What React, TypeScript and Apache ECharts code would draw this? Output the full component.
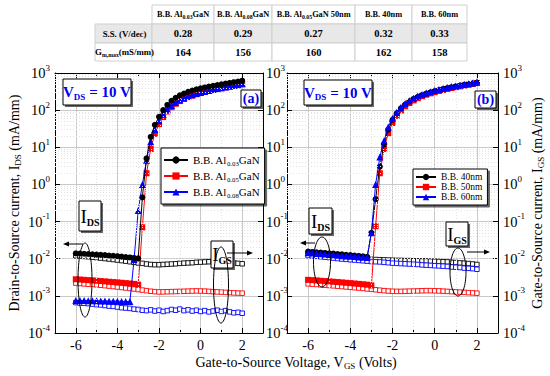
import React, { useEffect, useRef } from "react";
import * as echarts from "echarts";

const FONT = "Liberation Serif";

// ---- Data ----
const vgs = [-6, -5.8, -5.6, -5.4, -5.2, -5, -4.8, -4.6, -4.4, -4.2, -4, -3.8, -3.6, -3.4, -3.2, -3, -2.8, -2.6, -2.4, -2.2, -2, -1.8, -1.6, -1.4, -1.2, -1, -0.8, -0.6, -0.4, -0.2, 0, 0.2, 0.4, 0.6, 0.8, 1, 1.2, 1.4, 1.6, 1.8, 2];

// panel (a)
const idsAl003 = [0.014, 0.0138, 0.0136, 0.0134, 0.0132, 0.0129, 0.0127, 0.0125, 0.0122, 0.012, 0.0117, 0.0114, 0.0111, 0.0108, 0.0105, 0.0102, 0.45, 5.0, 19, 40, 66, 100, 138, 178, 215, 250, 280, 310, 338, 362, 385, 408, 430, 452, 474, 495, 518, 540, 565, 590, 620];
const idsAl005 = [0.0028, 0.00275, 0.0027, 0.00265, 0.0026, 0.00255, 0.0025, 0.00245, 0.0024, 0.00235, 0.0023, 0.00225, 0.0022, 0.00215, 0.0021, 0.002, 0.07, 2.0, 9, 23, 42, 65, 92, 120, 148, 175, 200, 224, 246, 268, 288, 308, 328, 348, 368, 388, 408, 428, 450, 472, 500];
const idsAl008 = [0.00075, 0.00075, 0.00075, 0.00074, 0.00074, 0.00074, 0.00073, 0.00073, 0.00072, 0.00072, 0.00072, 0.00071, 0.00071, 0.0007, 0.0095, 0.2, 1.0, 4.5, 14, 30, 52, 78, 105, 133, 160, 187, 212, 236, 258, 280, 300, 320, 340, 360, 380, 400, 420, 440, 462, 485, 515];
const igsAl003 = [0.012, 0.0118, 0.0115, 0.0113, 0.011, 0.0107, 0.0104, 0.0101, 0.0098, 0.0095, 0.0092, 0.0089, 0.0086, 0.0083, 0.008, 0.0077, 0.0075, 0.0072, 0.007, 0.0069, 0.0069, 0.007, 0.0071, 0.0072, 0.0073, 0.0075, 0.0076, 0.0077, 0.0078, 0.008, 0.0081, 0.0082, 0.0083, 0.0084, 0.0084, 0.0083, 0.0081, 0.0079, 0.0077, 0.0075, 0.0073];
const igsAl005 = [0.0022, 0.00215, 0.0021, 0.00206, 0.00202, 0.00198, 0.00193, 0.00188, 0.00183, 0.00178, 0.00173, 0.00168, 0.00163, 0.00158, 0.00153, 0.00148, 0.00143, 0.00138, 0.00133, 0.0013, 0.00128, 0.00128, 0.00129, 0.0013, 0.00131, 0.00132, 0.00133, 0.00134, 0.00135, 0.00136, 0.00135, 0.00134, 0.00132, 0.0013, 0.00128, 0.00126, 0.00124, 0.00122, 0.0012, 0.00119, 0.00118];
const igsAl008 = [0.00066, 0.00064, 0.00063, 0.00062, 0.0006, 0.00058, 0.00057, 0.00055, 0.00053, 0.00052, 0.0005, 0.00048, 0.00047, 0.00046, 0.00044, 0.00043, 0.00041, 0.0004, 0.00042, 0.00039, 0.00041, 0.00038, 0.0004, 0.00043, 0.00041, 0.00044, 0.0004, 0.00042, 0.00039, 0.00041, 0.00038, 0.0004, 0.00037, 0.00039, 0.00041, 0.00038, 0.0004, 0.00037, 0.00035, 0.00036, 0.00034];

// panel (b)
const ids40 = [0.0155, 0.0152, 0.0149, 0.0146, 0.0143, 0.014, 0.0137, 0.0134, 0.0131, 0.0128, 0.0125, 0.0122, 0.0119, 0.0116, 0.0113, 0.05, 0.4, 3.0, 12, 30, 55, 82, 112, 142, 172, 200, 228, 254, 280, 303, 326, 348, 372, 393, 416, 437, 458, 480, 502, 525, 555];
const ids50 = [0.0027, 0.00265, 0.0026, 0.00255, 0.0025, 0.00245, 0.0024, 0.00235, 0.0023, 0.00225, 0.0022, 0.00215, 0.0021, 0.00205, 0.002, 0.0019, 0.075, 2.0, 9, 24, 45, 70, 98, 127, 155, 183, 210, 236, 260, 283, 305, 328, 350, 372, 395, 416, 437, 460, 482, 505, 535];
const ids60 = [0.0145, 0.0142, 0.0139, 0.0136, 0.0133, 0.013, 0.0127, 0.0124, 0.0121, 0.0118, 0.0116, 0.0114, 0.0112, 0.011, 0.0108, 0.05, 1.0, 5.5, 15, 35, 60, 88, 120, 150, 180, 210, 240, 265, 290, 315, 340, 360, 385, 405, 430, 450, 470, 495, 515, 540, 570];
const igs40 = [0.0135, 0.0132, 0.0129, 0.0126, 0.0123, 0.012, 0.0117, 0.0114, 0.0111, 0.0108, 0.0106, 0.0104, 0.0102, 0.01, 0.0098, 0.0096, 0.0095, 0.0094, 0.0093, 0.0092, 0.0091, 0.009, 0.009, 0.0089, 0.0089, 0.0088, 0.0088, 0.0087, 0.0087, 0.0086, 0.0085, 0.0084, 0.0083, 0.0082, 0.008, 0.0079, 0.0077, 0.0076, 0.0074, 0.0072, 0.007];
const igs50 = [0.0021, 0.00206, 0.00202, 0.00198, 0.00194, 0.0019, 0.00186, 0.00182, 0.00178, 0.00174, 0.0017, 0.00166, 0.00162, 0.00158, 0.00154, 0.0015, 0.00146, 0.00142, 0.00138, 0.00135, 0.00133, 0.00132, 0.00132, 0.00133, 0.00134, 0.00135, 0.00136, 0.00137, 0.00138, 0.00138, 0.00137, 0.00136, 0.00134, 0.00132, 0.0013, 0.00128, 0.00126, 0.00124, 0.00122, 0.0012, 0.00118];
const igs60 = [0.0122, 0.0119, 0.0116, 0.0113, 0.011, 0.0107, 0.0104, 0.0101, 0.0098, 0.0096, 0.0094, 0.0092, 0.009, 0.0088, 0.0086, 0.0084, 0.0083, 0.0082, 0.008, 0.0078, 0.0076, 0.0075, 0.0074, 0.0073, 0.0072, 0.0071, 0.007, 0.0068, 0.0067, 0.0066, 0.0065, 0.0064, 0.0063, 0.0062, 0.006, 0.0059, 0.0058, 0.0056, 0.0055, 0.0054, 0.0052];

const legendA = ["B.B. Al0.03GaN", "B.B. Al0.05GaN", "B.B. Al0.08GaN"];
const legendB = ["B.B. 40nm", "B.B. 50nm", "B.B. 60nm"];

const tableHeaders = ["B.B. Al0.03GaN", "B.B. Al0.08GaN", "B.B. Al0.05GaN 50nm", "B.B. 40nm", "B.B. 60nm"];
const tableRowLabels = ["S.S. (V/dec)", "Gm,max(mS/mm)"];
const ssValues = ["0.28", "0.29", "0.27", "0.32", "0.33"];
const gmValues = ["164", "156", "160", "162", "158"];

const minorXTicks = [-5, -3, -1, 1];

// ---- helpers ----
const pts = (ys: number[]) => vgs.map((x, i) => [x, ys[i]]);

function idsSeries(name: string, ys: number[], color: string, symbol: string, size: number, xi: number, yi: number, z: number) {
  return {
    type: "line", name, data: pts(ys), xAxisIndex: xi, yAxisIndex: yi,
    symbol, symbolSize: size, showAllSymbol: true,
    lineStyle: { color, width: 1 }, itemStyle: { color }, z,
  };
}
function igsSeries(name: string, ys: number[], color: string, xi: number, yi: number) {
  return {
    type: "line", name, data: pts(ys), xAxisIndex: xi, yAxisIndex: yi,
    symbol: "rect", symbolSize: 4.5, showAllSymbol: true,
    lineStyle: { color, width: 0.8 },
    itemStyle: { color: "#fff", borderColor: color, borderWidth: 0.9 }, z: 2,
  };
}

const minorY: number[] = [];
for (let e = -4; e < 3; e++) for (let m = 2; m < 10; m++) minorY.push(m * Math.pow(10, e));

function gridMinor(xi: number, yi: number) {
  return {
    type: "line", name: "grid" + xi, data: [], xAxisIndex: xi, yAxisIndex: yi, silent: true, z: 1,
    markLine: {
      silent: true, symbol: ["none", "none"], label: { show: false },
      lineStyle: { color: "#e2e2e2", type: [1, 2], width: 1 },
      emphasis: { disabled: true },
      data: [...minorY.map((v) => ({ yAxis: v })), ...minorXTicks.map((v) => ({ xAxis: v }))],
    },
  };
}

function xAx(gi: number, pos: string, showLabel: boolean) {
  return {
    type: "value", gridIndex: gi, position: pos, min: -7, max: 3, splitNumber: 5,
    axisLine: { show: true, onZero: false, lineStyle: { color: "#000", width: 1 } },
    axisTick: { show: true, inside: true, length: 5, lineStyle: { color: "#000" } },
    minorTick: { show: true, splitNumber: 2, length: 3, lineStyle: { color: "#000" } },
    axisLabel: {
      show: showLabel, fontFamily: FONT, fontSize: 14, color: "#000", margin: 5,
      formatter: (v: number) => (Math.abs(v % 2) < 1e-9 ? String(v) : ""),
    },
    splitLine: { show: pos === "bottom", lineStyle: { color: "#c8c8c8", width: 1 } },
  };
}
function yAx(gi: number, pos: string, showLabel: boolean, margin: number) {
  return {
    type: "log", logBase: 10, gridIndex: gi, position: pos, min: 1e-4, max: 1e3, splitNumber: 7,
    axisLine: { show: true, onZero: false, lineStyle: { color: "#000", width: 1 } },
    axisTick: { show: true, inside: true, length: 5, lineStyle: { color: "#000" } },
    axisLabel: {
      show: showLabel, margin,
      formatter: (v: number) => `{b|10}{s|${Math.round(Math.log10(v))}}`,
      rich: {
        b: { fontFamily: FONT, fontSize: 14.5, color: "#000", lineHeight: 20 },
        s: { fontFamily: FONT, fontSize: 9, color: "#000", lineHeight: 10, verticalAlign: "top" },
      },
    },
    splitLine: { show: pos === "left", lineStyle: { color: "#c8c8c8", width: 1 } },
  };
}

function tstyle(size: number, weight: string, fill: string, extra: any = {}) {
  return { fontFamily: FONT, fontSize: size, fontWeight: weight, fill, ...extra };
}

function textEl(x: number, y: number, text: string, rich: any, rotation = 0) {
  return {
    type: "text", x, y, rotation, z: 30, silent: true,
    style: {
      text, rich, x: 0, y: 0, align: "center", verticalAlign: "middle",
      textAlign: "center", textVerticalAlign: "middle",
      fontFamily: FONT, fontSize: 14, fill: "#000",
    },
  };
}

function shadowBox(x: number, y: number, w: number, h: number) {
  return [
    { type: "rect", z: 28, silent: true, shape: { x: x + 2, y: y + 2, width: w, height: h }, style: { fill: "#666" } },
    { type: "rect", z: 29, silent: true, shape: { x, y, width: w, height: h }, style: { fill: "#fff", stroke: "#000", lineWidth: 1 } },
  ];
}

function ellipseEl(cx: number, cy: number, rx: number, ry: number) {
  return { type: "ellipse", z: 30, silent: true, shape: { cx, cy, rx, ry }, style: { fill: "none", stroke: "#000", lineWidth: 1 } };
}

function arrowEl(x1: number, x2: number, y: number) {
  const dir = x2 > x1 ? 1 : -1;
  const hx = x2 - dir * 6;
  return [
    { type: "line", z: 30, silent: true, shape: { x1, y1: y, x2: hx, y2: y }, style: { stroke: "#000", lineWidth: 1 } },
    { type: "polygon", z: 30, silent: true, shape: { points: [[x2, y], [hx, y - 2.5], [hx, y + 2.5]] }, style: { fill: "#000" } },
  ];
}

const blue = "#0000ee";
const vdsRich = {
  v: tstyle(15, "bold", blue, { lineHeight: 18 }),
  d: tstyle(9, "bold", blue, { lineHeight: 9, verticalAlign: "bottom" }),
};
const iRich = {
  i: tstyle(19, "normal", "#000", { lineHeight: 22 }),
  d: tstyle(10, "bold", "#000", { lineHeight: 10, verticalAlign: "bottom" }),
};
const panelRich = { p: tstyle(14, "bold", blue) };
const titleRich = {
  t: tstyle(14, "normal", "#000", { lineHeight: 17 }),
  s: tstyle(9, "normal", "#000", { lineHeight: 9, verticalAlign: "bottom" }),
};

function buildTable() {
  const colEdges = [95, 152, 214, 272, 355, 412, 467];
  const rowEdges = [5, 24, 43, 61];
  const els: any[] = [];
  const thRich = {
    h: tstyle(8.3, "bold", "#000", { lineHeight: 11 }),
    hs: tstyle(5.8, "bold", "#000", { lineHeight: 6, verticalAlign: "bottom" }),
  };
  const vRich = { v: tstyle(10.5, "bold", "#000") };
  const lRich = {
    l: tstyle(8.8, "bold", "#000", { lineHeight: 11 }),
    ls: tstyle(5.8, "bold", "#000", { lineHeight: 6, verticalAlign: "bottom" }),
  };
  for (let r = 0; r < 3; r++) {
    for (let c = 0; c < 6; c++) {
      if (r === 0 && c === 0) continue;
      els.push({
        type: "rect", z: 25, silent: true,
        shape: { x: colEdges[c], y: rowEdges[r], width: colEdges[c + 1] - colEdges[c], height: rowEdges[r + 1] - rowEdges[r] },
        style: { fill: r === 1 ? "#e8e8e8" : "#fff", stroke: "#cfcfcf", lineWidth: 1 },
      });
    }
  }
  tableHeaders.forEach((h, c) => {
    const t = h.replace(/Al(0\.\d+)GaN/, "Al}{hs|$1}{h|GaN");
    els.push(textEl((colEdges[c + 1] + colEdges[c + 2]) / 2, (rowEdges[0] + rowEdges[1]) / 2, `{h|${t}}`, thRich));
  });
  const rows = [ssValues, gmValues];
  rows.forEach((vals, r) => {
    const cy = (rowEdges[r + 1] + rowEdges[r + 2]) / 2;
    const lab = tableRowLabels[r].replace(/^Gm,max/, "G}{ls|m,max}{l|");
    els.push(textEl((colEdges[0] + colEdges[1]) / 2 + 1, cy, `{l|${lab}}`, lRich));
    vals.forEach((v, c) => {
      els.push(textEl((colEdges[c + 1] + colEdges[c + 2]) / 2, cy, `{v|${v}}`, vRich));
    });
  });
  return els;
}

export default function App() {
  const ref = useRef<HTMLDivElement>(null);
  useEffect(() => {
    if (!ref.current) return;
    const chart = echarts.init(ref.current, undefined, { renderer: "svg" });
    const legendText = (size: number, lh: number) => ({
      fontFamily: FONT, fontSize: size, color: "#000", lineHeight: lh,
      rich: { s: { fontFamily: FONT, fontSize: size * 0.62, color: "#000", lineHeight: 7, verticalAlign: "bottom" } },
    });
    const option: any = {
      animation: false,
      backgroundColor: "#fff",
      textStyle: { fontFamily: FONT },
      grid: [
        { left: 55, top: 73, width: 208, height: 260 },
        { left: 287, top: 73, width: 211, height: 260 },
      ],
      xAxis: [xAx(0, "bottom", true), xAx(0, "top", false), xAx(1, "bottom", true), xAx(1, "top", false)],
      yAxis: [yAx(0, "left", true, 5), yAx(0, "right", true, 3), yAx(1, "left", false, 5), yAx(1, "right", true, 5)],
      legend: [
        {
          data: legendA, orient: "vertical", left: 161, top: 148, z: 20,
          itemWidth: 24, itemHeight: 9, itemGap: 2, padding: [5, 5, 5, 2],
          backgroundColor: "#fff", borderColor: "#000", borderWidth: 1,
          shadowColor: "rgba(0,0,0,0.6)", shadowOffsetX: 2, shadowOffsetY: 2, shadowBlur: 0,
          selectedMode: false,
          formatter: (n: string) => n.replace(/Al(0\.\d+)/, "Al{s|$1}"),
          textStyle: legendText(11, 14),
        },
        {
          data: legendB, orient: "vertical", left: 413, top: 169, z: 20,
          itemWidth: 20, itemHeight: 8, itemGap: 0, padding: [3, 5, 3, 2],
          backgroundColor: "#fff", borderColor: "#000", borderWidth: 1,
          shadowColor: "rgba(0,0,0,0.6)", shadowOffsetX: 2, shadowOffsetY: 2, shadowBlur: 0,
          selectedMode: false,
          textStyle: legendText(9.5, 10),
        },
      ],
      series: [
        gridMinor(0, 0),
        gridMinor(2, 2),
        igsSeries("IGS a 0.03", igsAl003, "#000", 0, 0),
        igsSeries("IGS a 0.05", igsAl005, "#ff0000", 0, 0),
        igsSeries("IGS a 0.08", igsAl008, "#0000ff", 0, 0),
        idsSeries(legendA[1], idsAl005, "#ff0000", "rect", 6, 0, 0, 3),
        idsSeries(legendA[2], idsAl008, "#0000ff", "triangle", 7, 0, 0, 4),
        idsSeries(legendA[0], idsAl003, "#000", "circle", 6, 0, 0, 5),
        igsSeries("IGS b 40", igs40, "#000", 2, 2),
        igsSeries("IGS b 50", igs50, "#ff0000", 2, 2),
        igsSeries("IGS b 60", igs60, "#0000ff", 2, 2),
        idsSeries(legendB[1], ids50, "#ff0000", "rect", 6, 2, 2, 3),
        idsSeries(legendB[0], ids40, "#000", "circle", 6, 2, 2, 4),
        idsSeries(legendB[2], ids60, "#0000ff", "triangle", 7, 2, 2, 5),
      ],
      graphic: [
        ...buildTable(),
        // panel (a)
        ...shadowBox(63, 79, 68, 26),
        textEl(97, 92, "{v|V}{d|DS}{v| = 10 V}", vdsRich),
        ...shadowBox(241, 90, 20, 17),
        textEl(251, 98.5, "{p|(a)}", panelRich),
        ...shadowBox(79, 201, 22, 30),
        textEl(90, 216, "{i|I}{d|DS}", iRich),
        ...shadowBox(211, 241, 22, 27),
        textEl(222, 254.5, "{i|I}{d|GS}", iRich),
        ellipseEl(85, 280, 7, 37),
        ellipseEl(221, 285, 7.5, 38),
        ...arrowEl(83, 63, 244),
        ...arrowEl(227, 253, 253),
        // panel (b)
        ...shadowBox(304, 80, 68, 25),
        textEl(338, 92.5, "{v|V}{d|DS}{v| = 10 V}", vdsRich),
        ...shadowBox(475, 91, 21, 17),
        textEl(485.5, 99.5, "{p|(b)}", panelRich),
        ...shadowBox(309, 208, 23, 26),
        textEl(320.5, 221, "{i|I}{d|DS}", iRich),
        ...shadowBox(446, 222, 22, 24),
        textEl(457, 234, "{i|I}{d|GS}", iRich),
        ellipseEl(322, 262, 8.5, 25),
        ellipseEl(458, 272, 8, 24),
        ...arrowEl(315, 300, 243),
        ...arrowEl(467, 490, 252),
        // axis titles
        textEl(296, 362, "{t|Gate-to-Source Voltage, V}{s|GS}{t| (Volts)}", titleRich),
        textEl(14, 203, "{t|Drain-to-Source current, I}{s|DS}{t| (mA/mm)}", titleRich, Math.PI / 2),
        textEl(537, 203, "{t|Gate-to-Source current, I}{s|GS}{t| (mA/mm)}", titleRich, Math.PI / 2),
      ],
    };
    chart.setOption(option);
    return () => chart.dispose();
  }, []);
  return (
    <div
      ref={ref}
      style={{ position: "fixed", left: 0, top: 0, width: 550, height: 376, background: "#fff" }}
    />
  );
}
